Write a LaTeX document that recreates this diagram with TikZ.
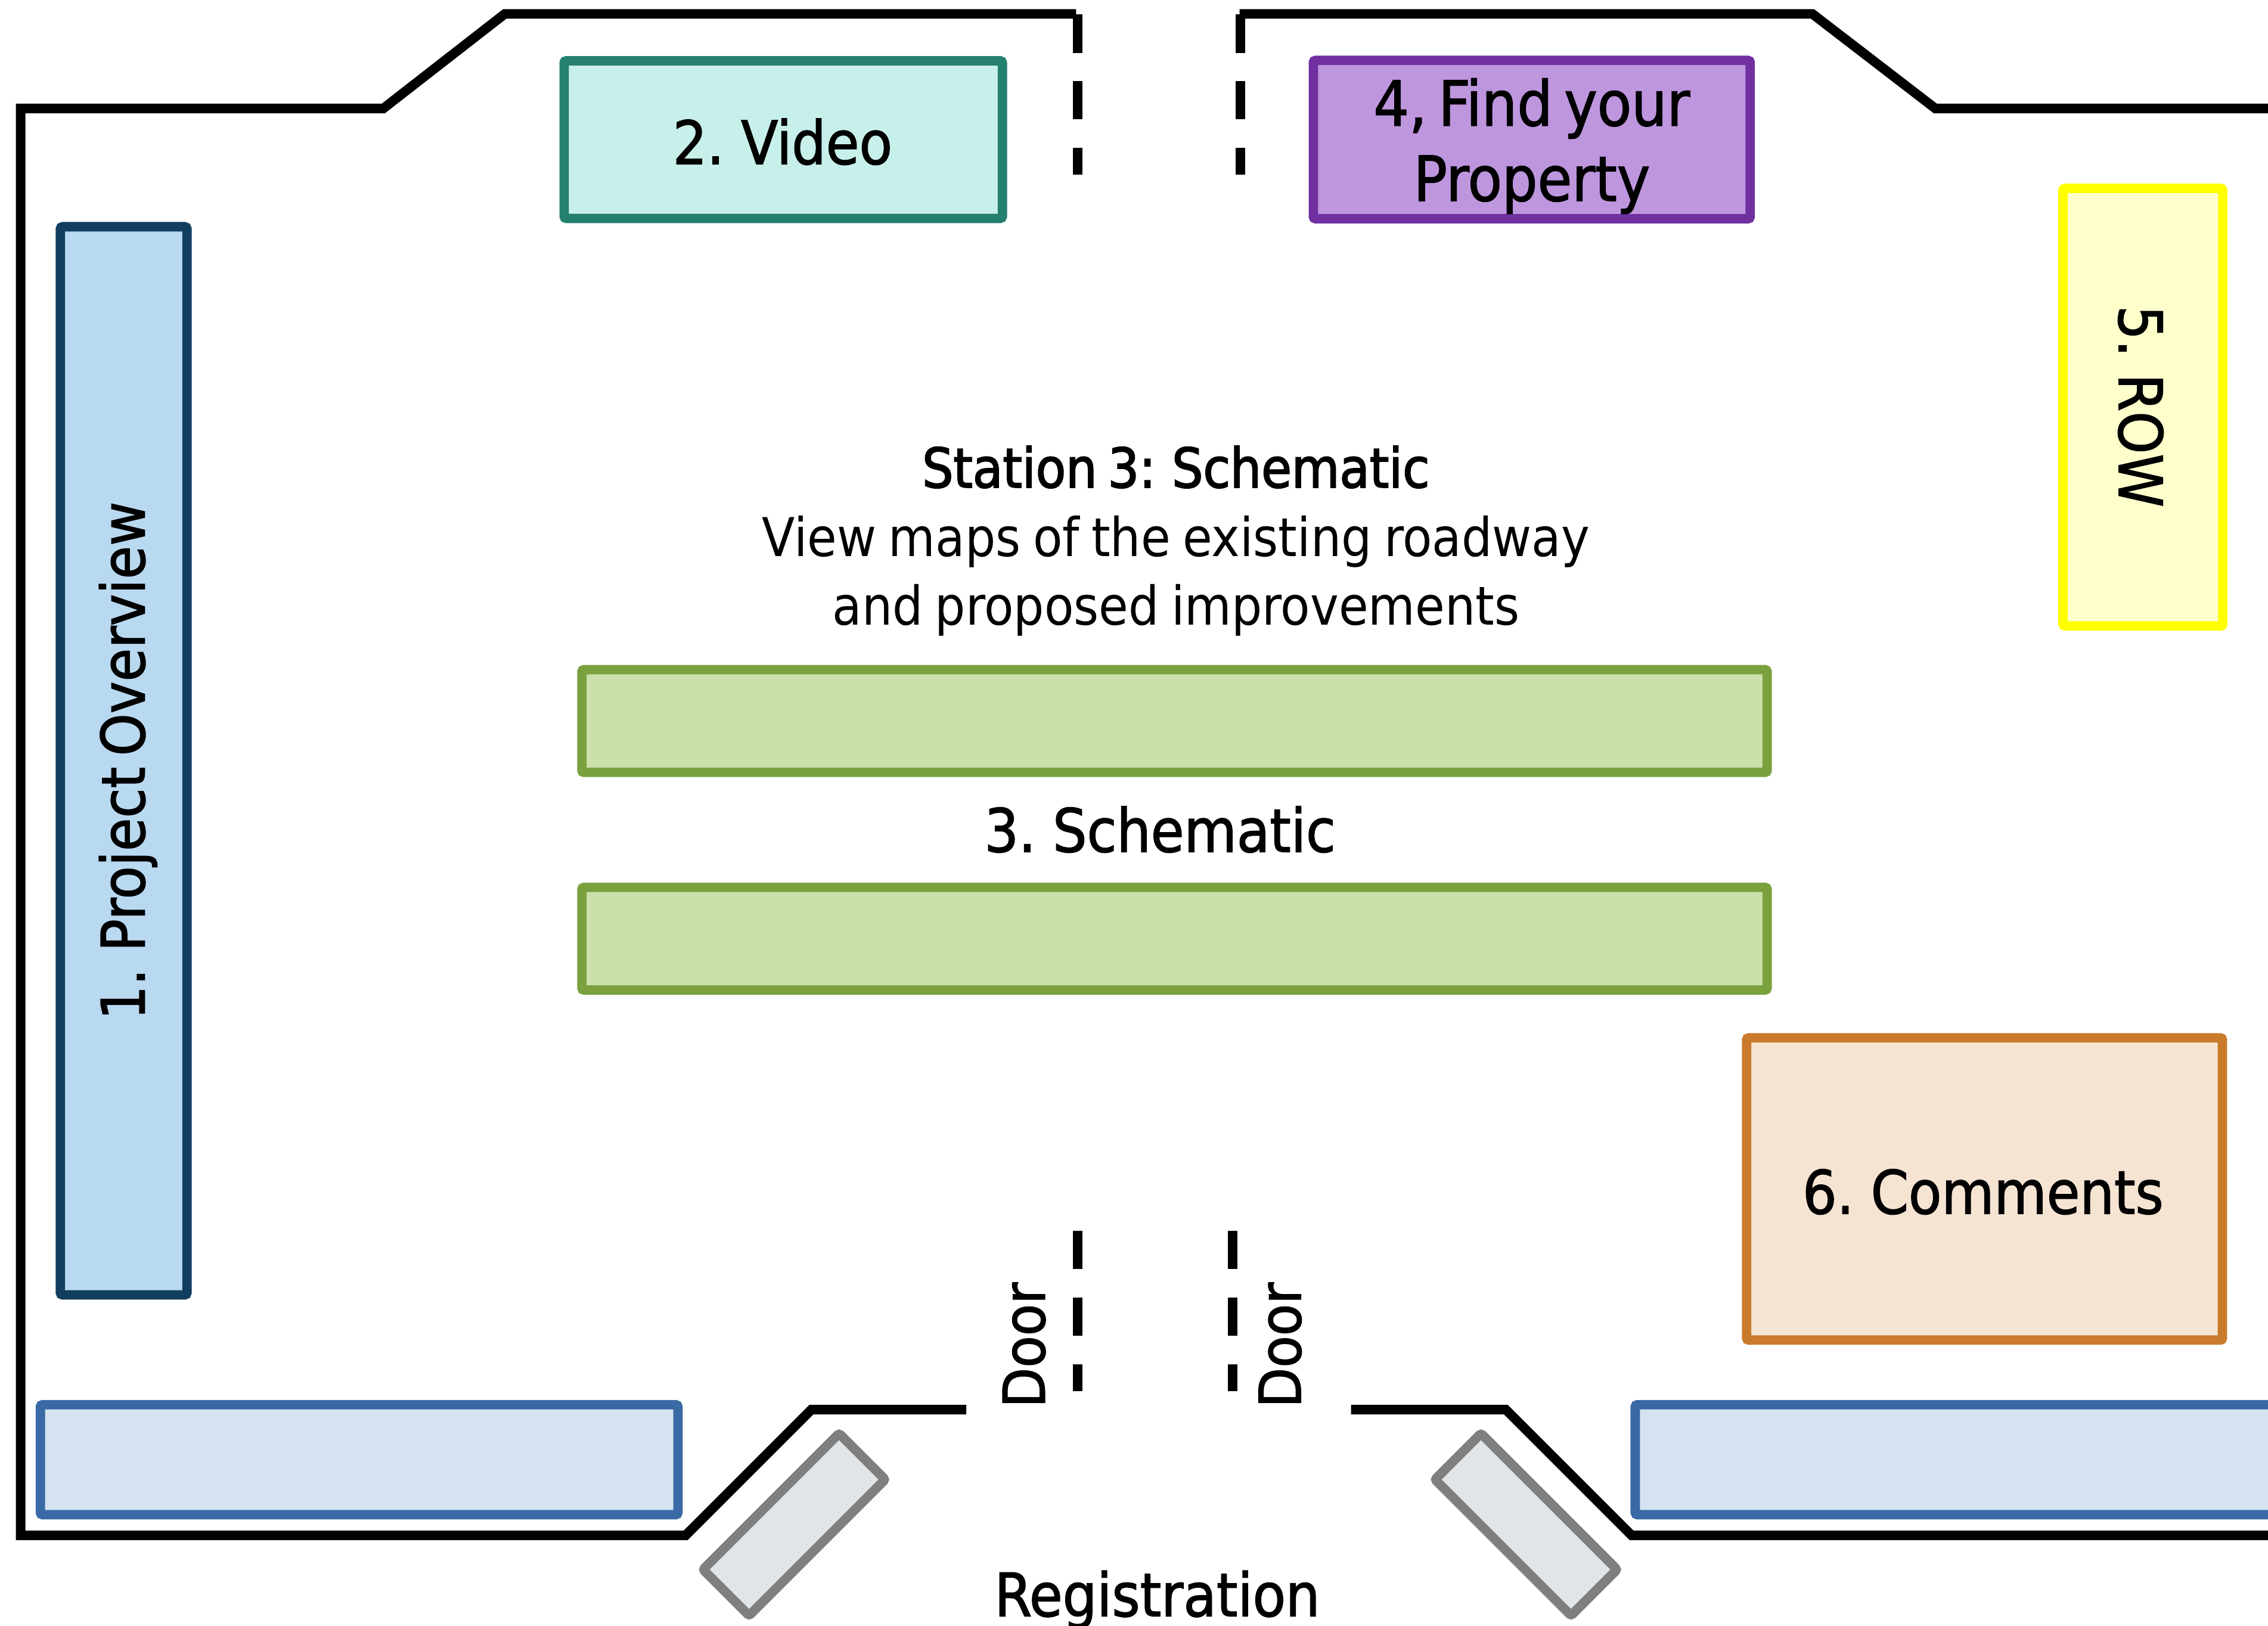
\documentclass[tikz,border=0pt]{standalone}
\usepackage{fontspec}
\setmainfont[WordSpace=0.8]{DejaVu Sans Condensed}
\newfontfamily\labfont[FakeBold=1.5,WordSpace=0.65]{DejaVu Sans Condensed}
\newfontfamily\headfont[FakeBold=2.2,WordSpace=0.7]{DejaVu Sans Condensed}
\tikzset{
  x=1pt,y=-1pt,
  wallline/.style={draw=black,line width=6.6pt,line join=miter},
  doorline/.style={draw=black,line width=6.6pt,dash pattern=on 26.5pt off 19.6pt},
  boxstyle/.style={rectangle,line width=6.5pt,rounded corners=1.5pt,inner sep=0pt,outer sep=0pt},
  labelstyle/.style={inner sep=0pt,outer sep=0pt,align=center,text=black},
  biglabel/.style={labelstyle,font=\labfont\fontsize{41.5}{52}\selectfont},
}
\definecolor{tealE}{HTML}{25806F}\definecolor{tealF}{HTML}{C8F0EA}
\definecolor{purE}{HTML}{7030A0}\definecolor{purF}{HTML}{BE96DE}
\definecolor{bluE}{HTML}{123F5F}\definecolor{bluF}{HTML}{B9D9F1}
\definecolor{yelE}{HTML}{FFFF00}\definecolor{yelF}{HTML}{FFFFCC}
\definecolor{grnE}{HTML}{7BA13F}\definecolor{grnF}{HTML}{CBE0AA}
\definecolor{orgE}{HTML}{C97A2B}\definecolor{orgF}{HTML}{F6E4D3}
\definecolor{slE}{HTML}{3A6AA5}\definecolor{slF}{HTML}{D5E2F1}
\definecolor{grE}{HTML}{7F7F7F}\definecolor{grF}{HTML}{E1E5E8}
\begin{document}
\begin{tikzpicture}
\useasboundingbox (0,0) rectangle (1568,1124);
% walls
\draw[wallline] (744,9.6) -- (349,9.6) -- (265,75) -- (14.3,75) -- (14.3,1061.5) -- (474,1061.5) -- (561,974.5) -- (668,974.5);
\draw[wallline] (857,9.6) -- (1253,9.6) -- (1338,75) -- (1568,75);
\draw[wallline] (934,974.5) -- (1041,974.5) -- (1128,1061.5) -- (1568,1061.5);
% doors
\coordinate (d1a) at (745,10); \coordinate (d1b) at (745,120.6);
\coordinate (d2a) at (857.5,10); \coordinate (d2b) at (857.5,120.6);
\coordinate (d3a) at (745,851); \coordinate (d3b) at (745,962);
\coordinate (d4a) at (852,851); \coordinate (d4b) at (852,962);
\draw[doorline] (d1a) -- (d1b);
\draw[doorline] (d2a) -- (d2b);
\draw[doorline] (d3a) -- (d3b);
\draw[doorline] (d4a) -- (d4b);
% boxes
\node[boxstyle,draw=bluE,fill=bluF,minimum width=87.5pt,minimum height=738.5pt] (overview) at (85.5,526) {};
\node[boxstyle,draw=tealE,fill=tealF,minimum width=303pt,minimum height=109pt] (video) at (541.5,96.5) {};
\node[boxstyle,draw=purE,fill=purF,minimum width=302pt,minimum height=109.5pt] (find) at (1059,96.5) {};
\node[boxstyle,draw=yelE,fill=yelF,minimum width=110.5pt,minimum height=302.5pt] (row) at (1481.5,281.5) {};
\node[boxstyle,draw=grnE,fill=grnF,minimum width=819.5pt,minimum height=71pt] (sa) at (812,498.5) {};
\node[boxstyle,draw=grnE,fill=grnF,minimum width=819.5pt,minimum height=71pt] (sb) at (812,649) {};
\node[boxstyle,draw=orgE,fill=orgF,minimum width=329pt,minimum height=209pt] (comments) at (1372,822) {};
\node[boxstyle,draw=slE,fill=slF,minimum width=440.8pt,minimum height=76pt] (tl) at (248.3,1009.2) {};
\node[boxstyle,draw=slE,fill=slF,minimum width=450pt,minimum height=76pt] (tr) at (1355.5,1009.2) {};
\node[boxstyle,draw=grE,fill=grF,minimum width=45pt,minimum height=133pt,rotate=-45] (r1) at (549,1054) {};
\node[boxstyle,draw=grE,fill=grF,minimum width=45pt,minimum height=133pt,rotate=45] (r2) at (1055,1054) {};
% labels
\node[biglabel,rotate=90] (overviewt) at (88.5,526) {1. Project Overview};
\node[biglabel] (videot) at (541,98) {2. Video};
\node[labelstyle,font=\labfont\fontsize{43}{52}\selectfont] (findt) at (1059,101) {4, Find your\\Property};
\node[biglabel,rotate=-90] (rowt) at (1480,281) {5. ROW};
\node[biglabel] (commentst) at (1371,824) {6. Comments};
\node[labelstyle,font=\fontsize{37}{47.5}\selectfont] (st) at (813,374) {{\headfont\fontsize{37.8}{47.5}\selectfont Station 3: Schematic}\\View maps of the existing roadway\\and proposed improvements};
\node[biglabel] (sc) at (802,573.5) {3. Schematic};
\node[labelstyle,rotate=90,font=\labfont\fontsize{40}{44}\selectfont] (da) at (708,930) {Door};
\node[labelstyle,rotate=90,font=\labfont\fontsize{40}{44}\selectfont] (db) at (885,930) {Door};
\node[biglabel] (reg) at (800,1106) {Registration};
\end{tikzpicture}
\end{document}
